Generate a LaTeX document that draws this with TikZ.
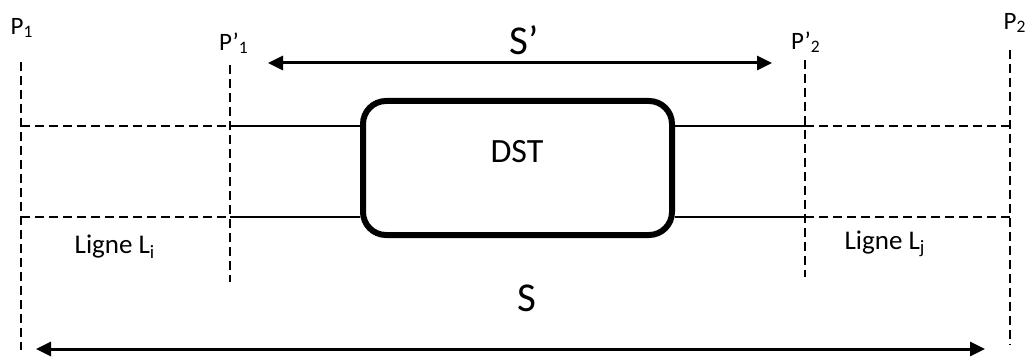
\documentclass[tikz,border=0pt]{standalone}
\usepackage{fontspec}
\setmainfont{Carlito}
\usetikzlibrary{arrows.meta}
\tikzset{
  plane/.style={dash pattern=on 4.5pt off 2.5pt, line width=1pt},
  wire/.style={line width=1pt},
  span/.style={{Triangle[length=7.5pt,width=7pt]}-{Triangle[length=7.5pt,width=7pt]}, line width=1.5pt},
  dstbox/.style={draw, line width=3pt, rounded corners=11.5pt, minimum width=154.5pt, minimum height=67pt, inner sep=0pt},
  plab/.style={font=\fontsize{12.5pt}{14pt}\selectfont, inner sep=0pt},
  llab/.style={font=\fontsize{13.5pt}{15pt}\selectfont, inner sep=0pt},
  slab/.style={font=\fontsize{20.5pt}{22pt}\selectfont, inner sep=0pt}
}
\begin{document}
\begin{tikzpicture}[x=0.5pt, y=-0.5pt]
      \useasboundingbox (0,0) rectangle (1032,358);
      % reference planes
      \draw
        (22,28) node[plab] (p1){P\textsubscript{1}}
        (234,43) node[plab] (q1){P’\textsubscript{1}}
        (806,42) node[plab] (q2){P’\textsubscript{2}}
        (1015,23) node[plab] (p2){P\textsubscript{2}};
      \coordinate (p1top) at (21,62);
      \coordinate (p1bot) at (21,350);
      \coordinate (q1top) at (230,65);
      \coordinate (q1bot) at (230,282);
      \coordinate (q2top) at (805,60);
      \coordinate (q2bot) at (805,277);
      \coordinate (p2top) at (1010,50);
      \coordinate (p2bot) at (1010,345);
      \begin{scope}[plane]
        \draw (p1top) to (p1bot);
        \draw (q1top) to (q1bot);
        \draw (q2top) to (q2bot);
        \draw (p2top) to (p2bot);
      \end{scope}
      % device
      \node[dstbox] (dst) at (517.5,168) {};
      \node[font=\fontsize{17pt}{19pt}\selectfont, inner sep=0pt] (dstname) at (517,152) {DST};
      % lines
      \coordinate (a1) at (21,126);
      \coordinate (a2) at (230,126);
      \coordinate (a3) at (805,126);
      \coordinate (a4) at (1010,126);
      \coordinate (b1) at (21,217);
      \coordinate (b2) at (230,217);
      \coordinate (b3) at (805,217);
      \coordinate (b4) at (1010,217);
      \begin{scope}[plane]
        \draw (a1) to (a2);
        \draw (b1) to (b2);
        \draw (a3) to (a4);
        \draw (b3) to (b4);
      \end{scope}
      \begin{scope}[wire]
        \draw (a2) to (dst.west|-a2);
        \draw (b2) to (dst.west|-b2);
        \draw (dst.east|-a3) to (a3);
        \draw (dst.east|-b3) to (b3);
      \end{scope}
      \node[llab] (li) at (115,247) {Ligne L\textsubscript{i}};
      \node[llab] (lj) at (885,244) {Ligne L\textsubscript{j}};
      % spans
      \coordinate (sp1) at (268,63);
      \coordinate (sp2) at (772,63);
      \coordinate (s1) at (36,349);
      \coordinate (s2) at (985,349);
      \draw[span] (sp1) to (sp2);
      \draw[span] (s1) to (s2);
      \node[slab] (sprime) at (524,40) {S’};
      \node[slab] (stot) at (527,298) {S};
    \end{tikzpicture}
\end{document}
